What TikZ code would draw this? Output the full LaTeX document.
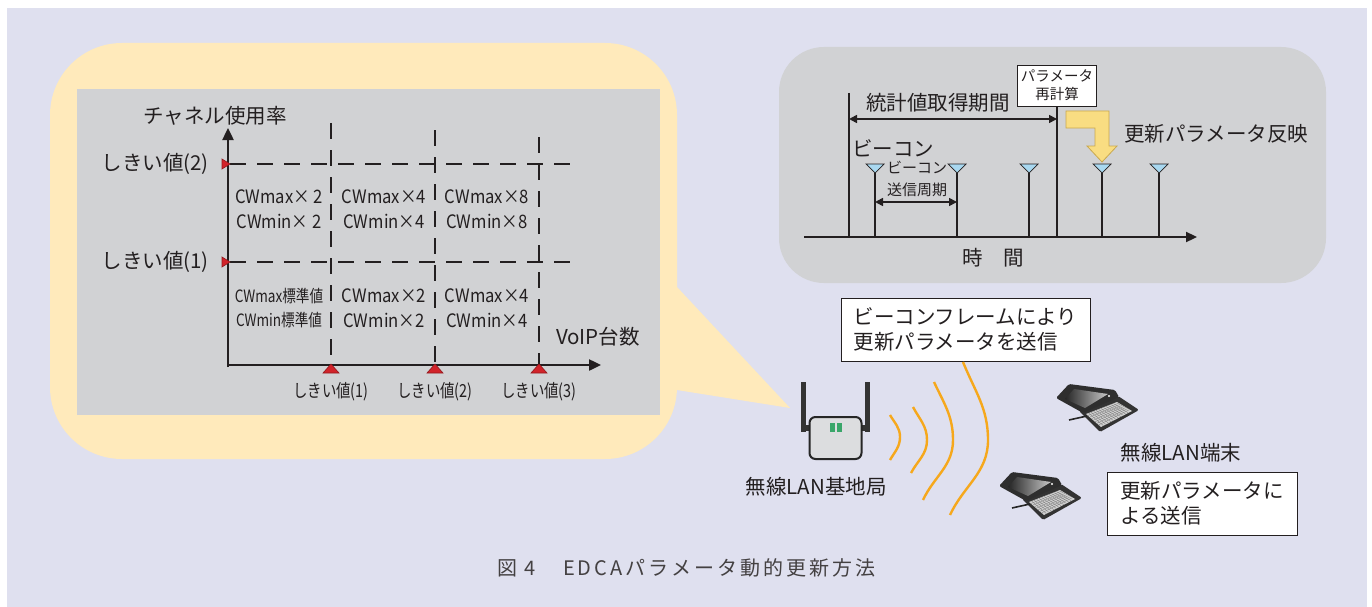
\documentclass[tikz,border=0pt]{standalone}
\usepackage{fontspec}
\setmainfont{Noto Sans CJK JP}
\newfontfamily\condA[FakeStretch=0.9]{Noto Sans CJK JP}
\newfontfamily\condB[FakeStretch=0.8]{Noto Sans CJK JP}
\newfontfamily\capfont[LetterSpace=15]{Noto Sans CJK JP}
\usetikzlibrary{arrows.meta,calc}

\definecolor{bgcol}{HTML}{DFE0EF}
\definecolor{balloon}{HTML}{FFEABB}
\definecolor{panel}{HTML}{D1D2D4}
\definecolor{ink}{HTML}{231F20}
\definecolor{mark}{HTML}{D2232A}
\definecolor{beacon}{HTML}{A9D8F0}
\definecolor{arrowfill}{HTML}{F9DD82}
\definecolor{arrowedge}{HTML}{C9A84E}
\definecolor{wave}{HTML}{F6A81C}
\definecolor{wlangreen}{HTML}{3AA66A}
\definecolor{boxgray}{HTML}{DCDDDF}

\tikzset{
  lab/.style={text=ink, font=\fontsize{20.5}{25}\selectfont, inner sep=0pt},
  cellA/.style={text=ink, font=\condA\fontsize{18.5}{25}\selectfont, align=center, inner sep=0pt},
  cellB/.style={text=ink, font=\condB\fontsize{17}{24}\selectfont, align=center, inner sep=0pt},
  ticklab/.style={text=ink, font=\condB\fontsize{18}{22}\selectfont, inner sep=0pt},
  axisline/.style={draw=ink, line width=2.4pt, -{Triangle[length=12pt,width=11pt]}},
  gridline/.style={draw=ink, line width=2pt, dash pattern=on 16pt off 11pt},
  thmark/.style={fill=mark, draw=mark!70!black, line width=0.6pt},
  tick/.style={draw=ink, line width=1.2pt},
  span/.style={draw=ink, line width=1.6pt, {Triangle[length=8pt,width=8pt]}-{Triangle[length=8pt,width=8pt]}},
  beaconmark/.style={fill=beacon, draw=ink, line width=0.7pt},
  textbox/.style={draw=ink, line width=0.9pt, fill=white, text=ink, align=left,
    font=\fontsize{20.5}{25}\selectfont, inner sep=0pt, minimum height=63pt},
  radio/.style={draw=wave, line width=2.4pt},
  laptop/.pic={
    % keyboard half
    \fill[black!80, rounded corners=1.5pt] (29,37) -- (68,22) -- (89,36) -- (50,58) -- cycle;
    \fill[black!18] (36,40) -- (67,28) -- (82,37) -- (51,53) -- cycle;
    \foreach \t in {0.12,0.24,...,0.9}{
      \draw[black!50, line width=0.35pt] ($(36,40)!\t!(51,53)$) -- ($(67,28)!\t!(82,37)$);
    }
    \foreach \t in {0.08,0.16,...,0.95}{
      \draw[black!50, line width=0.35pt] ($(36,40)!\t!(67,28)$) -- ($(51,53)!\t!(82,37)$);
    }
    % lid
    \fill[black!82, rounded corners=1.5pt] (6,24) -- (19,10) -- (65,16) -- (69,23) -- (33,39) -- cycle;
    % screen
    \shade[left color=black!85, right color=black!22] (15,25) -- (24,15) -- (58,20) -- (35,34) -- cycle;
    \fill[white] (59,22) circle (1.1pt);
    % stylus
    \draw[black!85, line width=1.6pt] (19,46) -- (37,42);
  }
}

\begin{document}
\begin{tikzpicture}[x=1pt,y=-1pt]
\useasboundingbox (0,0) rectangle (1372,607);
\fill[white] (0,0) rectangle (1372,607);
\fill[bgcol] (7,8) rectangle (1367,607);

% ---------- speech balloon with the contention-window chart ----------
\fill[balloon, rounded corners=72pt] (50,43) rectangle (677,459);
\fill[balloon] (670,287) -- (677,287) -- (790,408) -- (677,390) -- (670,390) -- cycle;
\fill[panel] (77,89) rectangle (660,415);

\coordinate (O) at (228,365);
\coordinate (ytop) at (228,128);
\coordinate (xend) at (601,365);

% threshold grid
\draw[gridline] (230,164) -- (572,164);
\draw[gridline] (230,262) -- (578,262);
\draw[gridline] (331,123) -- (331,365);
\draw[gridline] (435,130) -- (435,365);
\draw[gridline] (539,137) -- (539,365);

% axes
\draw[axisline] (228,367) -- (ytop);
\draw[axisline] (227,365) -- (xend);

% threshold markers
\fill[thmark] (222,159) -- (230,164) -- (222,169) -- cycle;
\fill[thmark] (222,257) -- (230,262) -- (222,267) -- cycle;
\foreach \x in {331,435,539}
  \fill[thmark] (\x-8,373) -- (\x,364) -- (\x+8,373) -- cycle;

% axis labels
\node[lab] (ylabel) at (215,116) {チャネル使用率};
\node[lab, anchor=east] (th2) at (209,164) {しきい値(2)};
\node[lab, anchor=east] (th1) at (209,262) {しきい値(1)};
\node[lab] (xlabel) at (598,337) {VoIP台数};
\node[ticklab] (tx1) at (331,392) {しきい値(1)};
\node[ticklab] (tx2) at (435,392) {しきい値(2)};
\node[ticklab] (tx3) at (539,392) {しきい値(3)};

% contention-window settings per region
\node[cellA] (c01) at (279,209.5) {CWmax× 2\\CWmin× 2};
\node[cellA] (c11) at (384,209.5) {CWmax×4\\CWmin×4};
\node[cellA] (c21) at (487,209.5) {CWmax×8\\CWmin×8};
\node[cellB] (c00) at (279,308) {CWmax標準値\\CWmin標準値};
\node[cellA] (c10) at (384,308) {CWmax×2\\CWmin×2};
\node[cellA] (c20) at (487,308) {CWmax×4\\CWmin×4};

% ---------- beacon timeline ----------
\fill[panel, rounded corners=45pt] (779,47) rectangle (1326,283);
\coordinate (tstart) at (804,237);
\coordinate (tend) at (1197,237);
\draw[draw=ink, line width=2.2pt, -{Triangle[length=11pt,width=10pt]}] (tstart) -- (tend);
\node[lab] (timelab) at (993,258) {時　間};

% statistics period start
\coordinate (s0) at (849,93);
\coordinate (s0b) at (849,237);
\draw[tick] (s0) -- (s0b);

% parameter recomputation
\node[draw=ink, line width=0.9pt, fill=white, text=ink, align=center, inner sep=0pt,
      minimum width=79pt, minimum height=41pt, font=\fontsize{14.5}{18}\selectfont]
      (recalc) at (1057,85.5) {パラメータ\\再計算};
\coordinate (rb) at (1057,237);
\draw[tick] (recalc.south) -- (rb);

% beacons
\foreach \x/\n in {875/b1,957/b2,1029/b3,1102/b4,1159/b5}{
  \coordinate (\n) at (\x,173);
  \coordinate (\n-base) at (\x,237);
  \draw[tick] (\n) -- (\n-base);
  \filldraw[beaconmark] (\x-9,164) -- (\x+9,164) -- (\n) -- cycle;
}

% spans
\coordinate (sp1) at (849,119);
\coordinate (sp2) at (1057,119);
\draw[span] (sp1) -- (sp2);
\node[lab] (statlab) at (938,103) {統計値取得期間};
\node[lab, anchor=west] (beaconlab) at (852,148) {ビーコン};
\node[text=ink, align=center, inner sep=0pt, font=\fontsize{15}{22}\selectfont]
      (periodlab) at (917,179) {ビーコン\\送信周期};
\coordinate (pp1) at (875,202);
\coordinate (pp2) at (957,202);
\draw[span] (pp1) -- (pp2);

% updated parameters take effect
\filldraw[fill=arrowfill, draw=arrowedge, line width=0.8pt]
  (1066,111) -- (1109,111) -- (1109,146) -- (1117,146) -- (1102,162)
  -- (1087,146) -- (1095,146) -- (1095,128) -- (1066,128) -- cycle;
\node[lab, anchor=west] (applylab) at (1124,134) {更新パラメータ反映};

% ---------- access point, radio waves and terminals ----------
\node[textbox, minimum width=249pt] (bcast) at (965.5,329.5)
  {ビーコンフレームにより\\更新パラメータを送信};

% access point
\fill[black!80] (801,382) rectangle (806,432);
\fill[black!80] (865,382) rectangle (870,432);
\fill[black!80] (805,425) rectangle (811,431);
\fill[black!80] (860,425) rectangle (866,431);
\node[draw=black!85, line width=2pt, fill=boxgray, rounded corners=6pt,
      minimum width=52pt, minimum height=42pt, inner sep=0pt] (ap) at (835.5,438) {};
\fill[wlangreen] (830,423) rectangle (835,432);
\fill[wlangreen] (837,423) rectangle (842,432);
\node[lab] (aplab) at (816,487) {無線LAN基地局};

% radio waves
\draw[radio] (890,415) to[out=-60,in=90] (900,437) to[out=-90,in=60] (890,460);
\draw[radio] (913,407) to[out=-62,in=90] (927,440) to[out=-90,in=62] (911,473);
\draw[radio] (934,382) to[out=-65,in=90] (953,440) to[out=-90,in=65] (923,500);
\draw[radio] (963,362) to[out=-68,in=90] (988,440) to[out=-90,in=65] (950,515);

% terminals
\pic at (1050,374) {laptop};
\pic at (993,462) {laptop};
\node[lab] (stalab) at (1181,453) {無線LAN端末};
\node[textbox, minimum width=190pt] (stabox) at (1202,503.5)
  {更新パラメータに\\よる送信};

% ---------- caption ----------
\node[text=ink!85, inner sep=0pt, anchor=west, font=\capfont\fontsize{20}{22}\selectfont]
  (capnum) at (497,568) {図 4};
\node[text=ink!85, inner sep=0pt, anchor=west, font=\capfont\fontsize{20}{22}\selectfont]
  (captext) at (563,568) {EDCAパラメータ動的更新方法};
\end{tikzpicture}
\end{document}
